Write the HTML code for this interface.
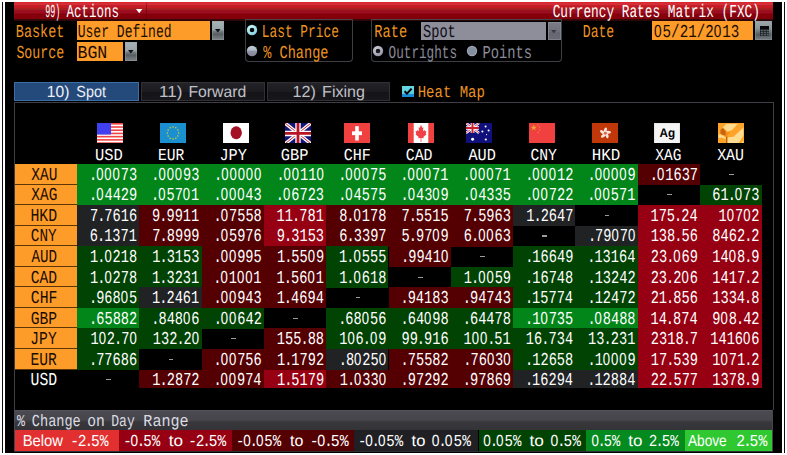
<!DOCTYPE html>
<html><head><meta charset="utf-8"><title>Currency Rates Matrix (FXC)</title>
<style>
html,body{margin:0;padding:0;background:#fff;}
body{width:787px;height:455px;position:relative;overflow:hidden;font-family:"Liberation Sans",sans-serif;text-rendering:geometricPrecision;}
#s div,#s span,#s svg{position:absolute;}
#s{position:absolute;left:0;top:0;width:787px;height:455px;}
.z{font-family:"Liberation Sans",sans-serif;}
text{white-space:pre;}
</style></head><body><div id="s">

<div style="left:2px;top:2px;width:1.1px;height:451px;background:#0c0c0c;"></div>
<div style="left:784px;top:2px;width:1px;height:451px;background:#101010;"></div>
<div style="left:4.6px;top:2px;width:777.6px;height:451px;background:#000;"></div>
<div style="left:14px;top:2px;width:759px;height:18.6px;background:linear-gradient(#de2028 0px,#da2832 1px,#d42e38 1.4px,#d42e38 3px,#c41c24 3.6px,#c41c24 5.8px,#a82020 6.3px,#a61e20 7.8px,#9c0e20 8.3px,#9a0c1e 11.2px,#86000c 11.8px,#82000a 16.6px,#3c080c 17.3px,#2c0608 18.6px);"></div>
<div style="left:145.7px;top:3px;width:1px;height:17px;background:rgba(60,0,10,.38);"></div>


<svg style="left:136px;top:8.9px" width="7" height="5" viewBox="0 0 7 5"><path d="M0 0H6.4L3.2 4.2Z" fill="#fff"/></svg>



<div style="left:76.6px;top:21px;width:133px;height:19px;background:#fe9c29;"></div>

<div style="left:76.6px;top:42px;width:46.2px;height:19px;background:#fe9c29;"></div>

<div style="left:212px;top:21.3px;width:12.2px;height:18.7px;background:linear-gradient(#a8b4b8 0,#98a4a8 45%,#727a7e 55%,#565e62 70%,#6c7478 85%,#7a8186 100%);box-shadow:inset 0 0 0 1px rgba(150,160,166,.45);"></div><svg style="left:215.3px;top:29.3px" width="5.6" height="3.6" viewBox="0 0 56 36"><path d="M0 0H56L28 34Z" fill="#0c1014"/></svg>
<div style="left:124.9px;top:42px;width:12px;height:19px;background:linear-gradient(#a8b4b8 0,#98a4a8 45%,#727a7e 55%,#565e62 70%,#6c7478 85%,#7a8186 100%);box-shadow:inset 0 0 0 1px rgba(150,160,166,.45);"></div><svg style="left:128.1px;top:50.2px" width="5.6" height="3.6" viewBox="0 0 56 36"><path d="M0 0H56L28 34Z" fill="#0c1014"/></svg>
<div style="left:245px;top:19.4px;width:106px;height:41px;background:transparent;border:1px solid #3c4044;border-top:1.2px solid #44444a;border-radius:0 0 4px 4px;"></div>
<svg style="left:246.2px;top:24.4px" width="12" height="12" viewBox="0 0 12 12"><defs><radialGradient id="rs" cx=".4" cy=".35" r=".7"><stop offset="0" stop-color="#d8f8fa"/><stop offset=".6" stop-color="#a4e4ec"/><stop offset="1" stop-color="#7cc4dc"/></radialGradient></defs><circle cx="6" cy="6" r="5.2" fill="url(#rs)"/><circle cx="6" cy="6" r="2.35" fill="#06090c"/></svg>
<svg style="left:246.2px;top:44.6px" width="12" height="12" viewBox="0 0 12 12"><defs><linearGradient id="rg" x1="0" y1="0" x2="0" y2="1"><stop offset="0" stop-color="#c0ccd2"/><stop offset=".42" stop-color="#b0bcc6"/><stop offset=".5" stop-color="#9494a8"/><stop offset="1" stop-color="#84849a"/></linearGradient></defs><circle cx="6" cy="6" r="5.2" fill="url(#rg)"/></svg>


<div style="left:370.6px;top:19.4px;width:189.2px;height:41px;background:transparent;border:1px solid #3c4044;border-top:1.2px solid #44444a;border-radius:0 0 4px 4px;"></div>

<div style="left:421px;top:21.5px;width:125px;height:18.7px;background:#8e8e9a;"></div>

<div style="left:547.6px;top:21.5px;width:13px;height:18.7px;background:linear-gradient(#7c7c88,#70707c 50%,#666672 60%,#6a6a76);box-shadow:inset 0 0 0 1px rgba(150,160,166,.45);"></div><svg style="left:551.3px;top:29.6px" width="5.6" height="3.6" viewBox="0 0 56 36"><path d="M0 0H56L28 34Z" fill="#3c3c46"/></svg>
<svg style="left:372.2px;top:44.8px" width="12" height="12" viewBox="0 0 12 12"><defs><radialGradient id="rd" cx=".4" cy=".35" r=".7"><stop offset="0" stop-color="#d4d4de"/><stop offset=".6" stop-color="#acacbc"/><stop offset="1" stop-color="#8c8ca0"/></radialGradient></defs><circle cx="6" cy="6" r="5.2" fill="url(#rd)"/><circle cx="6" cy="6" r="2.3" fill="#181818"/></svg>
<svg style="left:466.4px;top:44.8px" width="12" height="12" viewBox="0 0 12 12"><circle cx="6" cy="6" r="5.2" fill="#a2a2b6"/><circle cx="6" cy="6" r="4.1" fill="#8290a0"/></svg>



<div style="left:652.4px;top:21px;width:100.6px;height:19px;background:#fe9c29;"></div>

<div style="left:755.2px;top:20.8px;width:17.2px;height:19.6px;background:linear-gradient(#9ea8ac 0,#8a9498 40%,#70787c 55%,#525a5e 72%,#687074 88%,#747c80 100%);box-shadow:inset 0 0 0 1px rgba(150,160,166,.4);"></div>
<svg style="left:759.6px;top:25.6px" width="9.6" height="10.2" viewBox="0 0 96 102"><rect x="0" y="0" width="96" height="102" fill="#1c2024"/><rect x="0" y="0" width="96" height="30" fill="#08090a"/><g fill="#5a6266"><rect x="8" y="38" width="22" height="14"/><rect x="37" y="38" width="22" height="14"/><rect x="66" y="38" width="22" height="14"/><rect x="8" y="59" width="22" height="14"/><rect x="37" y="59" width="22" height="14"/><rect x="66" y="59" width="22" height="14"/><rect x="8" y="80" width="22" height="14"/><rect x="37" y="80" width="22" height="14"/><rect x="66" y="80" width="22" height="14"/></g></svg>
<div style="left:14.4px;top:82.2px;width:125px;height:18.6px;background:#244a7c;box-shadow:inset 0 0 0 1px #3c6ea6;"></div>


<div style="left:140.6px;top:82.2px;width:124px;height:18.4px;background:linear-gradient(#242428,#1c1c20 50%,#141418 52%,#18181c);box-shadow:inset 0 0 0 1px #303036;"></div>


<div style="left:266.6px;top:82.2px;width:123.6px;height:18.4px;background:linear-gradient(#242428,#1c1c20 50%,#141418 52%,#18181c);box-shadow:inset 0 0 0 1px #303036;"></div>


<div style="left:402px;top:86px;width:12.2px;height:11.4px;background:linear-gradient(#6ad6e2 0,#5ccfe0 68%,#1c8fdc 70%,#1888d8 100%);"></div>
<svg style="left:403px;top:87px" width="10" height="9" viewBox="0 0 10 9"><path d="M1.6 4.2L4 6.6L8.6 1.6" stroke="#000" stroke-width="2" fill="none"/></svg>

<div style="left:14px;top:101.6px;width:760px;height:1.3px;background:#3e3e44;"></div>
<div style="left:14px;top:102px;width:1.2px;height:308px;background:#3e3e44;"></div>
<div style="left:772.8px;top:102px;width:1.2px;height:308px;background:#3e3e44;"></div><svg style="left:97.2px;top:122.5px" width="26" height="20.9" viewBox="0 0 26 21" preserveAspectRatio="none"><rect width="26" height="21" fill="#fff"/><rect x="0" y="0.00" width="26" height="1.62" fill="#f04444"/><rect x="0" y="3.23" width="26" height="1.62" fill="#f04444"/><rect x="0" y="6.46" width="26" height="1.62" fill="#f04444"/><rect x="0" y="9.69" width="26" height="1.62" fill="#f04444"/><rect x="0" y="12.92" width="26" height="1.62" fill="#f04444"/><rect x="0" y="16.15" width="26" height="1.62" fill="#f04444"/><rect x="0" y="19.38" width="26" height="1.62" fill="#f04444"/><rect width="14" height="11.6" fill="#4040f0"/></svg>
<svg style="left:160px;top:122.5px" width="26" height="20.9" viewBox="0 0 26 21" preserveAspectRatio="none"><rect width="26" height="21" fill="#1a90d0"/><circle cx="13.00" cy="3.90" r="0.75" fill="#e8d020"/><circle cx="15.80" cy="4.72" r="0.75" fill="#e8d020"/><circle cx="17.85" cy="6.95" r="0.75" fill="#e8d020"/><circle cx="18.60" cy="10.00" r="0.75" fill="#e8d020"/><circle cx="17.85" cy="13.05" r="0.75" fill="#e8d020"/><circle cx="15.80" cy="15.28" r="0.75" fill="#e8d020"/><circle cx="13.00" cy="16.10" r="0.75" fill="#e8d020"/><circle cx="10.20" cy="15.28" r="0.75" fill="#e8d020"/><circle cx="8.15" cy="13.05" r="0.75" fill="#e8d020"/><circle cx="7.40" cy="10.00" r="0.75" fill="#e8d020"/><circle cx="8.15" cy="6.95" r="0.75" fill="#e8d020"/><circle cx="10.20" cy="4.72" r="0.75" fill="#e8d020"/></svg>
<svg style="left:223px;top:122.5px" width="26" height="20.9" viewBox="0 0 26 21" preserveAspectRatio="none"><rect width="26" height="21" fill="#fff"/><ellipse cx="13.2" cy="9.8" rx="5.7" ry="6.5" fill="#a41024"/></svg>
<svg style="left:285px;top:122.5px" width="26" height="20.9" viewBox="0 0 26 21" preserveAspectRatio="none"><rect width="26" height="21" fill="#141478"/><path d="M0 0L26 21M26 0L0 21" stroke="#fff" stroke-width="3.4"/><path d="M0 0L26 21M26 0L0 21" stroke="#c82030" stroke-width="1"/><path d="M13 0V21M0 10.5H26" stroke="#fff" stroke-width="5.4"/><path d="M13 0V21M0 10.5H26" stroke="#b81424" stroke-width="2.8"/></svg>
<svg style="left:344.1px;top:122.5px" width="26" height="20.9" viewBox="0 0 26 21" preserveAspectRatio="none"><rect width="26" height="21" fill="#f04040"/><rect x="11.2" y="3.2" width="3.6" height="14.4" fill="#fff"/><rect x="8" y="8.4" width="10" height="3.8" fill="#fff"/></svg>
<svg style="left:408.2px;top:122.5px" width="26" height="20.9" viewBox="0 0 26 21" preserveAspectRatio="none"><rect width="26" height="21" fill="#fff"/><rect width="5.7" height="21" fill="#f04040"/><rect x="20.3" width="5.7" height="21" fill="#f04040"/><path d="M13 2.6L14.3 5.4L15.6 4.8L15.1 8.6L16.8 7.2L17.2 8.4L19 8.2L18.2 10.6L19 11.2L15.6 13.8L16 15L13.4 14.6V18.4H12.6V14.6L10 15L10.4 13.8L7 11.2L7.8 10.6L7 8.2L8.8 8.4L9.2 7.2L10.9 8.6L10.4 4.8L11.7 5.4Z" fill="#f04048" transform="translate(13 10.5) scale(.92 1.1) translate(-13 -10.5)"/></svg>
<svg style="left:466px;top:122.5px" width="26" height="20.9" viewBox="0 0 26 21" preserveAspectRatio="none"><rect width="26" height="21" fill="#10107c"/><g><path d="M0 0L13 10M13 0L0 10" stroke="#fff" stroke-width="2.4"/><path d="M0 0L13 10M13 0L0 10" stroke="#d02030" stroke-width=".8"/><path d="M6.5 0V10M0 5H13" stroke="#fff" stroke-width="3.6"/><path d="M6.5 0V10M0 5H13" stroke="#d02030" stroke-width="2"/></g><circle cx="6.6" cy="16.4" r="1.5" fill="#fff"/><circle cx="19.6" cy="3.4" r="1.0" fill="#fff"/><circle cx="16.4" cy="8.6" r="1.0" fill="#fff"/><circle cx="22.6" cy="7.6" r="1.0" fill="#fff"/><circle cx="19.8" cy="16.6" r="1.1" fill="#fff"/><circle cx="20.6" cy="11.6" r="0.6" fill="#fff"/></svg>
<svg style="left:529.2px;top:122.5px" width="26" height="20.9" viewBox="0 0 26 21" preserveAspectRatio="none"><rect width="26" height="21" fill="#f04040"/><polygon points="4.80,1.60 5.59,3.71 7.84,3.81 6.08,5.22 6.68,7.39 4.80,6.14 2.92,7.39 3.52,5.22 1.76,3.81 4.01,3.71" fill="#f0a030"/><circle cx="9" cy="1.8" r=".65" fill="#f0a830" opacity=".75"/><circle cx="10.6" cy="4" r=".65" fill="#f0a830" opacity=".75"/><circle cx="10.6" cy="7" r=".65" fill="#f0a830" opacity=".75"/><circle cx="9" cy="9.4" r=".65" fill="#f0a830" opacity=".75"/></svg>
<svg style="left:592.1px;top:122.5px" width="26" height="20.9" viewBox="0 0 26 21" preserveAspectRatio="none"><rect width="26" height="21" fill="#c0380a"/><ellipse cx="13.3" cy="7.2" rx="1.45" ry="2.9" fill="#fae4dc" transform="rotate(0 13.3 10.2) rotate(20 13.3 7.2)"/><ellipse cx="13.3" cy="7.2" rx="1.45" ry="2.9" fill="#fae4dc" transform="rotate(72 13.3 10.2) rotate(20 13.3 7.2)"/><ellipse cx="13.3" cy="7.2" rx="1.45" ry="2.9" fill="#fae4dc" transform="rotate(144 13.3 10.2) rotate(20 13.3 7.2)"/><ellipse cx="13.3" cy="7.2" rx="1.45" ry="2.9" fill="#fae4dc" transform="rotate(216 13.3 10.2) rotate(20 13.3 7.2)"/><ellipse cx="13.3" cy="7.2" rx="1.45" ry="2.9" fill="#fae4dc" transform="rotate(288 13.3 10.2) rotate(20 13.3 7.2)"/><circle cx="13.3" cy="10.2" r="1.5" fill="#d86848"/></svg>
<svg style="left:654px;top:122.5px" width="26" height="20.9" viewBox="0 0 26 21" preserveAspectRatio="none"><rect width="26" height="21" fill="#f4f4f4"/><path d="M0 0H26V21H0Z" fill="none" stroke="#d8d8d8" stroke-width="1"/><text x="13.4" y="14.4" font-family="Liberation Sans, sans-serif" font-weight="bold" font-size="12.6" textLength="15.6" lengthAdjust="spacingAndGlyphs" text-anchor="middle" fill="#000">Ag</text></svg>
<svg style="left:718.1px;top:122.5px" width="26" height="20.9" viewBox="0 0 26 21" preserveAspectRatio="none"><rect width="26" height="21" fill="#ffa428"/><polygon points="4.9,4.5 8.1,0.9 19.7,0.9 13.8,7.4 9.6,8.6" fill="#ffdc90"/><polygon points="9.3,14.5 15.5,13.9 25.4,4.5 25.4,12.2 20.9,20 9.3,20" fill="#ffdc90"/><polygon points="23.6,20 25.4,17 25.4,20" fill="#ffdc90"/><polygon points="2.5,6.8 4.9,5 7.8,8.6 7.8,12.8 2.5,11" fill="#c8640e"/><polygon points="0.5,11.6 2.5,11.3 7.8,14.5 7.8,16.3 3.7,14.5 0.5,15.1" fill="#ffdc90"/><polygon points="7.8,9 10,9.6 13,8 9.2,13 7.8,13" fill="#f09018"/><rect x="8.1" y="13.6" width="1.2" height="7" fill="#b85808"/></svg>











<div style="left:77.0px;top:164.0px;width:560.7px;height:20.86px;background:#02861a;"></div>
<div style="left:637.7px;top:164.0px;width:62.3px;height:20.86px;background:#540003;"></div>
<div style="left:77.0px;top:184.56px;width:560.7px;height:20.86px;background:#02861a;"></div>
<div style="left:700.0px;top:184.56px;width:61.8px;height:20.86px;background:#014303;"></div>
<div style="left:77.0px;top:205.12px;width:62.3px;height:20.86px;background:#202224;"></div>
<div style="left:139.3px;top:205.12px;width:124.6px;height:20.86px;background:#540003;"></div>
<div style="left:263.9px;top:205.12px;width:62.3px;height:20.86px;background:#960012;"></div>
<div style="left:326.2px;top:205.12px;width:186.9px;height:20.86px;background:#540003;"></div>
<div style="left:513.1px;top:205.12px;width:62.3px;height:20.86px;background:#202224;"></div>
<div style="left:637.7px;top:205.12px;width:124.1px;height:20.86px;background:#960012;"></div>
<div style="left:77.0px;top:225.68px;width:62.3px;height:20.86px;background:#202224;"></div>
<div style="left:139.3px;top:225.68px;width:124.6px;height:20.86px;background:#540003;"></div>
<div style="left:263.9px;top:225.68px;width:62.3px;height:20.86px;background:#960012;"></div>
<div style="left:326.2px;top:225.68px;width:186.9px;height:20.86px;background:#540003;"></div>
<div style="left:575.4px;top:225.68px;width:62.3px;height:20.86px;background:#202224;"></div>
<div style="left:637.7px;top:225.68px;width:124.1px;height:20.86px;background:#960012;"></div>
<div style="left:77.0px;top:246.24px;width:124.6px;height:20.86px;background:#014303;"></div>
<div style="left:201.6px;top:246.24px;width:124.6px;height:20.86px;background:#540003;"></div>
<div style="left:326.2px;top:246.24px;width:62.3px;height:20.86px;background:#014303;"></div>
<div style="left:388.5px;top:246.24px;width:62.3px;height:20.86px;background:#540003;"></div>
<div style="left:513.1px;top:246.24px;width:124.6px;height:20.86px;background:#014303;"></div>
<div style="left:637.7px;top:246.24px;width:124.1px;height:20.86px;background:#960012;"></div>
<div style="left:77.0px;top:266.8px;width:124.6px;height:20.86px;background:#014303;"></div>
<div style="left:201.6px;top:266.8px;width:124.6px;height:20.86px;background:#540003;"></div>
<div style="left:326.2px;top:266.8px;width:62.3px;height:20.86px;background:#014303;"></div>
<div style="left:450.8px;top:266.8px;width:186.9px;height:20.86px;background:#014303;"></div>
<div style="left:637.7px;top:266.8px;width:124.1px;height:20.86px;background:#960012;"></div>
<div style="left:77.0px;top:287.36px;width:62.3px;height:20.86px;background:#014303;"></div>
<div style="left:139.3px;top:287.36px;width:62.3px;height:20.86px;background:#202224;"></div>
<div style="left:201.6px;top:287.36px;width:124.6px;height:20.86px;background:#540003;"></div>
<div style="left:388.5px;top:287.36px;width:124.6px;height:20.86px;background:#540003;"></div>
<div style="left:513.1px;top:287.36px;width:124.6px;height:20.86px;background:#014303;"></div>
<div style="left:637.7px;top:287.36px;width:124.1px;height:20.86px;background:#960012;"></div>
<div style="left:77.0px;top:307.92px;width:62.3px;height:20.86px;background:#02861a;"></div>
<div style="left:139.3px;top:307.92px;width:124.6px;height:20.86px;background:#014303;"></div>
<div style="left:326.2px;top:307.92px;width:186.9px;height:20.86px;background:#014303;"></div>
<div style="left:513.1px;top:307.92px;width:124.6px;height:20.86px;background:#02861a;"></div>
<div style="left:637.7px;top:307.92px;width:124.1px;height:20.86px;background:#960012;"></div>
<div style="left:77.0px;top:328.48px;width:124.6px;height:20.86px;background:#014303;"></div>
<div style="left:263.9px;top:328.48px;width:62.3px;height:20.86px;background:#540003;"></div>
<div style="left:326.2px;top:328.48px;width:311.5px;height:20.86px;background:#014303;"></div>
<div style="left:637.7px;top:328.48px;width:124.1px;height:20.86px;background:#960012;"></div>
<div style="left:77.0px;top:349.04px;width:62.3px;height:20.86px;background:#014303;"></div>
<div style="left:201.6px;top:349.04px;width:124.6px;height:20.86px;background:#540003;"></div>
<div style="left:326.2px;top:349.04px;width:62.3px;height:20.86px;background:#202224;"></div>
<div style="left:388.5px;top:349.04px;width:124.6px;height:20.86px;background:#540003;"></div>
<div style="left:513.1px;top:349.04px;width:124.6px;height:20.86px;background:#014303;"></div>
<div style="left:637.7px;top:349.04px;width:124.1px;height:20.86px;background:#960012;"></div>
<div style="left:139.3px;top:369.6px;width:124.6px;height:18.5px;background:#540003;"></div>
<div style="left:263.9px;top:369.6px;width:62.3px;height:18.5px;background:#960012;"></div>
<div style="left:326.2px;top:369.6px;width:186.9px;height:18.5px;background:#540003;"></div>
<div style="left:513.1px;top:369.6px;width:124.6px;height:18.5px;background:#202224;"></div>
<div style="left:637.7px;top:369.6px;width:124.1px;height:18.5px;background:#960012;"></div>










<div style="left:729.3px;top:173.7px;width:4.8px;height:1.2px;background:#9c9c9c;"></div>









<div style="left:667.0px;top:194.3px;width:4.8px;height:1.2px;background:#9c9c9c;"></div>









<div style="left:604.7px;top:214.8px;width:4.8px;height:1.2px;background:#9c9c9c;"></div>









<div style="left:542.4px;top:235.4px;width:4.8px;height:1.2px;background:#9c9c9c;"></div>









<div style="left:480.1px;top:255.9px;width:4.8px;height:1.2px;background:#9c9c9c;"></div>









<div style="left:417.8px;top:276.5px;width:4.8px;height:1.2px;background:#9c9c9c;"></div>









<div style="left:355.5px;top:297.1px;width:4.8px;height:1.2px;background:#9c9c9c;"></div>









<div style="left:293.2px;top:317.6px;width:4.8px;height:1.2px;background:#9c9c9c;"></div>









<div style="left:231.0px;top:338.2px;width:4.8px;height:1.2px;background:#9c9c9c;"></div>









<div style="left:168.7px;top:358.7px;width:4.8px;height:1.2px;background:#9c9c9c;"></div>









<div style="left:106.4px;top:379.3px;width:4.8px;height:1.2px;background:#9c9c9c;"></div>










<div style="left:14.8px;top:164.0px;width:62.2px;height:20.759999999999998px;background:#fe9c29;"></div>
<div style="left:14.8px;top:184px;width:62.2px;height:1px;background:#5c3608;"></div>

<div style="left:14.8px;top:184.56px;width:62.2px;height:20.759999999999998px;background:#fe9c29;"></div>
<div style="left:14.8px;top:204px;width:62.2px;height:1px;background:#5c3608;"></div>

<div style="left:14.8px;top:205.12px;width:62.2px;height:20.759999999999998px;background:#fe9c29;"></div>
<div style="left:14.8px;top:225px;width:62.2px;height:1px;background:#5c3608;"></div>

<div style="left:14.8px;top:225.68px;width:62.2px;height:20.759999999999998px;background:#fe9c29;"></div>
<div style="left:14.8px;top:245px;width:62.2px;height:1px;background:#5c3608;"></div>

<div style="left:14.8px;top:246.24px;width:62.2px;height:20.759999999999998px;background:#fe9c29;"></div>
<div style="left:14.8px;top:266px;width:62.2px;height:1px;background:#5c3608;"></div>

<div style="left:14.8px;top:266.8px;width:62.2px;height:20.759999999999998px;background:#fe9c29;"></div>
<div style="left:14.8px;top:286px;width:62.2px;height:1px;background:#5c3608;"></div>

<div style="left:14.8px;top:287.36px;width:62.2px;height:20.759999999999998px;background:#fe9c29;"></div>
<div style="left:14.8px;top:307px;width:62.2px;height:1px;background:#5c3608;"></div>

<div style="left:14.8px;top:307.92px;width:62.2px;height:20.759999999999998px;background:#fe9c29;"></div>
<div style="left:14.8px;top:327px;width:62.2px;height:1px;background:#5c3608;"></div>

<div style="left:14.8px;top:328.48px;width:62.2px;height:20.759999999999998px;background:#fe9c29;"></div>
<div style="left:14.8px;top:348px;width:62.2px;height:1px;background:#5c3608;"></div>

<div style="left:14.8px;top:349.04px;width:62.2px;height:20.759999999999998px;background:#fe9c29;"></div>
<div style="left:14.8px;top:369px;width:62.2px;height:1px;background:#5c3608;"></div>


<div style="left:14px;top:410px;width:759.4px;height:20.3px;background:linear-gradient(#58585e 0,#4a4a50 1.5px,#46464c 10px,#38383c 12px,#343438 100%);"></div>





<div style="left:15px;top:430.2px;width:104.1px;height:20.6px;background:#e23030;"></div>


<div style="left:119.1px;top:430.2px;width:113.1px;height:20.6px;background:#960012;"></div>



<div style="left:232.2px;top:430.2px;width:121.8px;height:20.6px;background:#540003;"></div>



<div style="left:354px;top:430.2px;width:124.2px;height:20.6px;background:#202024;"></div>



<div style="left:479.1px;top:430.2px;width:106.7px;height:20.6px;background:#014303;"></div>



<div style="left:585.8px;top:430.2px;width:99.2px;height:20.6px;background:#048a1e;"></div>



<div style="left:685px;top:430.2px;width:86.8px;height:20.6px;background:#30c830;"></div>


<div style="left:14px;top:410px;width:1.2px;height:41.4px;background:#46464c;"></div>
<div style="left:771.6px;top:410px;width:1.4px;height:41.4px;background:#46464c;"></div>
<div style="left:14px;top:450.8px;width:759px;height:0.8px;background:#303034;"></div>
<svg style="left:0;top:0" width="787" height="455" font-family="Liberation Mono, monospace"><g clip-path="url(#cb)"><text transform="translate(45.13,16.9) scale(0.4634,1)" font-size="18.2" fill="#fff">99)</text></g>
<g clip-path="url(#cb)"><text transform="translate(66.60,16.9) scale(0.6858,1)" font-size="18.2" fill="#fff">Actions</text></g>
<g clip-path="url(#cb)"><text transform="translate(552.70,16.9) scale(0.7032,1)" font-size="18.2" fill="#fff">Currency Rates Matrix (FXC)</text></g>
<text transform="translate(15.83,37.2) scale(0.7411,1)" font-size="18.2" fill="#ee9420">Basket</text>
<text transform="translate(16.39,58.0) scale(0.7306,1)" font-size="18.2" fill="#ee9420">Source</text>
<text transform="translate(77.70,37.2) scale(0.7168,1)" font-size="18.2" fill="#1a0c00">User Defined</text>
<text transform="translate(77.49,58.0) scale(0.9102,1)" font-size="18.2" fill="#1a0c00">BGN</text>
<text transform="translate(261.72,37.2) scale(0.7081,1)" font-size="18.2" fill="#ee9420">Last Price</text>
<text transform="translate(263.20,58.0) scale(0.7473,1)" font-size="18.2" fill="#ee9420">% Change</text>
<text transform="translate(374.32,37.2) scale(0.7526,1)" font-size="18.2" fill="#ee9420">Rate</text>
<text transform="translate(423.08,37.2) scale(0.7491,1)" font-size="18.2" fill="#0c0c14">Spot</text>
<text transform="translate(388.58,58.0) scale(0.6966,1)" font-size="18.2" fill="#8a8c9a">Outrights</text>
<text transform="translate(482.51,58.0) scale(0.7573,1)" font-size="18.2" fill="#8a8c9a">Points</text>
<text transform="translate(582.76,37.2) scale(0.7209,1)" font-size="18.2" fill="#ee9420">Date</text>
<text transform="translate(654.07,37.2) scale(0.7805,1)" font-size="18.2" fill="#1a0c00"><tspan class="z" font-size="17.47" style="letter-spacing:1.20px">0</tspan>5/21/2<tspan class="z" font-size="17.47" style="letter-spacing:1.20px">0</tspan>13</text>
<text class="z" transform="translate(46.81,97.2) scale(0.9753,1)" font-size="16.0" fill="#f0f0f4">10)</text>
<text class="z" transform="translate(76.35,97.2) scale(0.8976,1)" font-size="16.0" fill="#f0f0f4">Spot</text>
<text class="z" transform="translate(159.11,97.2) scale(1.0644,1)" font-size="16.0" fill="#c0c0c8">11)</text>
<text class="z" transform="translate(188.51,97.2) scale(0.9833,1)" font-size="16.0" fill="#c0c0c8">Forward</text>
<text class="z" transform="translate(292.58,97.2) scale(1.0040,1)" font-size="16.0" fill="#c0c0c8">12)</text>
<text class="z" transform="translate(322.09,97.2) scale(1.0015,1)" font-size="16.0" fill="#c0c0c8">Fixing</text>
<text transform="translate(417.69,97.2) scale(0.8389,1)" font-size="16.7" fill="#ee9420">Heat Map</text>
<text transform="translate(94.93,159.8) scale(0.9262,1)" font-size="16.7" fill="#fff">USD</text>
<text transform="translate(158.04,159.8) scale(0.8756,1)" font-size="16.7" fill="#fff">EUR</text>
<text transform="translate(219.40,159.8) scale(0.9139,1)" font-size="16.7" fill="#fff">JPY</text>
<text transform="translate(280.75,159.8) scale(0.9201,1)" font-size="16.7" fill="#fff">GBP</text>
<text transform="translate(343.67,159.8) scale(0.9045,1)" font-size="16.7" fill="#fff">CHF</text>
<text transform="translate(405.78,159.8) scale(0.8903,1)" font-size="16.7" fill="#fff">CAD</text>
<text transform="translate(468.40,159.8) scale(0.9102,1)" font-size="16.7" fill="#fff">AUD</text>
<text transform="translate(530.39,159.8) scale(0.8842,1)" font-size="16.7" fill="#fff">CNY</text>
<text transform="translate(591.75,159.8) scale(0.9496,1)" font-size="16.7" fill="#fff">HKD</text>
<text transform="translate(655.25,159.8) scale(0.8693,1)" font-size="16.7" fill="#fff">XAG</text>
<text transform="translate(717.15,159.8) scale(0.8949,1)" font-size="16.7" fill="#fff">XAU</text>
<text transform="translate(89.92,179.7) scale(0.7510,1)" font-size="18.2" fill="#fff"><tspan dx="-1.31" style="letter-spacing:-1.31px">.</tspan><tspan class="z" font-size="17.47" style="letter-spacing:1.20px">000</tspan>73</text>
<text transform="translate(152.22,179.7) scale(0.7510,1)" font-size="18.2" fill="#fff"><tspan dx="-1.31" style="letter-spacing:-1.31px">.</tspan><tspan class="z" font-size="17.47" style="letter-spacing:1.20px">000</tspan>93</text>
<text transform="translate(215.07,179.7) scale(0.7510,1)" font-size="18.2" fill="#fff"><tspan dx="-1.31" style="letter-spacing:-1.31px">.</tspan><tspan class="z" font-size="17.47" style="letter-spacing:1.20px">00000</tspan></text>
<text transform="translate(277.37,179.7) scale(0.7510,1)" font-size="18.2" fill="#fff"><tspan dx="-1.31" style="letter-spacing:-1.31px">.</tspan><tspan class="z" font-size="17.47" style="letter-spacing:1.20px">00</tspan>11<tspan class="z" font-size="17.47" style="letter-spacing:1.20px">0</tspan></text>
<text transform="translate(339.12,179.7) scale(0.7510,1)" font-size="18.2" fill="#fff"><tspan dx="-1.31" style="letter-spacing:-1.31px">.</tspan><tspan class="z" font-size="17.47" style="letter-spacing:1.20px">000</tspan>75</text>
<text transform="translate(401.22,179.7) scale(0.7510,1)" font-size="18.2" fill="#fff"><tspan dx="-1.31" style="letter-spacing:-1.31px">.</tspan><tspan class="z" font-size="17.47" style="letter-spacing:1.20px">000</tspan>71</text>
<text transform="translate(463.52,179.7) scale(0.7510,1)" font-size="18.2" fill="#fff"><tspan dx="-1.31" style="letter-spacing:-1.31px">.</tspan><tspan class="z" font-size="17.47" style="letter-spacing:1.20px">000</tspan>71</text>
<text transform="translate(526.12,179.7) scale(0.7510,1)" font-size="18.2" fill="#fff"><tspan dx="-1.31" style="letter-spacing:-1.31px">.</tspan><tspan class="z" font-size="17.47" style="letter-spacing:1.20px">000</tspan>12</text>
<text transform="translate(588.41,179.7) scale(0.7510,1)" font-size="18.2" fill="#fff"><tspan dx="-1.31" style="letter-spacing:-1.31px">.</tspan><tspan class="z" font-size="17.47" style="letter-spacing:1.20px">0000</tspan>9</text>
<text transform="translate(650.83,179.7) scale(0.7510,1)" font-size="18.2" fill="#fff"><tspan dx="-1.31" style="letter-spacing:-1.31px">.</tspan><tspan class="z" font-size="17.47" style="letter-spacing:1.20px">0</tspan>1637</text>
<text transform="translate(90.01,200.3) scale(0.7510,1)" font-size="18.2" fill="#fff"><tspan dx="-1.31" style="letter-spacing:-1.31px">.</tspan><tspan class="z" font-size="17.47" style="letter-spacing:1.20px">0</tspan>4429</text>
<text transform="translate(152.02,200.3) scale(0.7510,1)" font-size="18.2" fill="#fff"><tspan dx="-1.31" style="letter-spacing:-1.31px">.</tspan><tspan class="z" font-size="17.47" style="letter-spacing:1.20px">0</tspan>57<tspan class="z" font-size="17.47" style="letter-spacing:1.20px">0</tspan>1</text>
<text transform="translate(214.52,200.3) scale(0.7510,1)" font-size="18.2" fill="#fff"><tspan dx="-1.31" style="letter-spacing:-1.31px">.</tspan><tspan class="z" font-size="17.47" style="letter-spacing:1.20px">000</tspan>43</text>
<text transform="translate(276.82,200.3) scale(0.7510,1)" font-size="18.2" fill="#fff"><tspan dx="-1.31" style="letter-spacing:-1.31px">.</tspan><tspan class="z" font-size="17.47" style="letter-spacing:1.20px">0</tspan>6723</text>
<text transform="translate(339.12,200.3) scale(0.7510,1)" font-size="18.2" fill="#fff"><tspan dx="-1.31" style="letter-spacing:-1.31px">.</tspan><tspan class="z" font-size="17.47" style="letter-spacing:1.20px">0</tspan>4575</text>
<text transform="translate(401.51,200.3) scale(0.7510,1)" font-size="18.2" fill="#fff"><tspan dx="-1.31" style="letter-spacing:-1.31px">.</tspan><tspan class="z" font-size="17.47" style="letter-spacing:1.20px">0</tspan>43<tspan class="z" font-size="17.47" style="letter-spacing:1.20px">0</tspan>9</text>
<text transform="translate(463.72,200.3) scale(0.7510,1)" font-size="18.2" fill="#fff"><tspan dx="-1.31" style="letter-spacing:-1.31px">.</tspan><tspan class="z" font-size="17.47" style="letter-spacing:1.20px">0</tspan>4335</text>
<text transform="translate(526.12,200.3) scale(0.7510,1)" font-size="18.2" fill="#fff"><tspan dx="-1.31" style="letter-spacing:-1.31px">.</tspan><tspan class="z" font-size="17.47" style="letter-spacing:1.20px">00</tspan>722</text>
<text transform="translate(588.12,200.3) scale(0.7510,1)" font-size="18.2" fill="#fff"><tspan dx="-1.31" style="letter-spacing:-1.31px">.</tspan><tspan class="z" font-size="17.47" style="letter-spacing:1.20px">00</tspan>571</text>
<text transform="translate(712.22,200.3) scale(0.7510,1)" font-size="18.2" fill="#fff">61<tspan dx="-1.31" style="letter-spacing:-1.31px">.</tspan><tspan class="z" font-size="17.47" style="letter-spacing:1.20px">0</tspan>73</text>
<text transform="translate(89.94,220.8) scale(0.7510,1)" font-size="18.2" fill="#fff">7<tspan dx="-1.31" style="letter-spacing:-1.31px">.</tspan>7616</text>
<text transform="translate(152.02,220.8) scale(0.7510,1)" font-size="18.2" fill="#fff">9<tspan dx="-1.31" style="letter-spacing:-1.31px">.</tspan>9911</text>
<text transform="translate(214.55,220.8) scale(0.7510,1)" font-size="18.2" fill="#fff"><tspan dx="-1.31" style="letter-spacing:-1.31px">.</tspan><tspan class="z" font-size="17.47" style="letter-spacing:1.20px">0</tspan>7558</text>
<text transform="translate(276.62,220.8) scale(0.7510,1)" font-size="18.2" fill="#fff">11<tspan dx="-1.31" style="letter-spacing:-1.31px">.</tspan>781</text>
<text transform="translate(339.15,220.8) scale(0.7510,1)" font-size="18.2" fill="#fff">8<tspan dx="-1.31" style="letter-spacing:-1.31px">.</tspan><tspan class="z" font-size="17.47" style="letter-spacing:1.20px">0</tspan>178</text>
<text transform="translate(401.42,220.8) scale(0.7510,1)" font-size="18.2" fill="#fff">7<tspan dx="-1.31" style="letter-spacing:-1.31px">.</tspan>5515</text>
<text transform="translate(463.72,220.8) scale(0.7510,1)" font-size="18.2" fill="#fff">7<tspan dx="-1.31" style="letter-spacing:-1.31px">.</tspan>5963</text>
<text transform="translate(526.23,220.8) scale(0.7510,1)" font-size="18.2" fill="#fff">1<tspan dx="-1.31" style="letter-spacing:-1.31px">.</tspan>2647</text>
<text transform="translate(650.45,220.8) scale(0.7510,1)" font-size="18.2" fill="#fff">175<tspan dx="-1.31" style="letter-spacing:-1.31px">.</tspan>24</text>
<text transform="translate(718.55,220.8) scale(0.7510,1)" font-size="18.2" fill="#fff">1<tspan class="z" font-size="17.47" style="letter-spacing:1.20px">0</tspan>7<tspan class="z" font-size="17.47" style="letter-spacing:1.20px">0</tspan>2</text>
<text transform="translate(89.72,241.4) scale(0.7510,1)" font-size="18.2" fill="#fff">6<tspan dx="-1.31" style="letter-spacing:-1.31px">.</tspan>1371</text>
<text transform="translate(152.31,241.4) scale(0.7510,1)" font-size="18.2" fill="#fff">7<tspan dx="-1.31" style="letter-spacing:-1.31px">.</tspan>8999</text>
<text transform="translate(214.54,241.4) scale(0.7510,1)" font-size="18.2" fill="#fff"><tspan dx="-1.31" style="letter-spacing:-1.31px">.</tspan><tspan class="z" font-size="17.47" style="letter-spacing:1.20px">0</tspan>5976</text>
<text transform="translate(276.82,241.4) scale(0.7510,1)" font-size="18.2" fill="#fff">9<tspan dx="-1.31" style="letter-spacing:-1.31px">.</tspan>3153</text>
<text transform="translate(339.33,241.4) scale(0.7510,1)" font-size="18.2" fill="#fff">6<tspan dx="-1.31" style="letter-spacing:-1.31px">.</tspan>3397</text>
<text transform="translate(401.51,241.4) scale(0.7510,1)" font-size="18.2" fill="#fff">5<tspan dx="-1.31" style="letter-spacing:-1.31px">.</tspan>97<tspan class="z" font-size="17.47" style="letter-spacing:1.20px">0</tspan>9</text>
<text transform="translate(463.72,241.4) scale(0.7510,1)" font-size="18.2" fill="#fff">6<tspan dx="-1.31" style="letter-spacing:-1.31px">.</tspan><tspan class="z" font-size="17.47" style="letter-spacing:1.20px">00</tspan>63</text>
<text transform="translate(588.87,241.4) scale(0.7510,1)" font-size="18.2" fill="#fff"><tspan dx="-1.31" style="letter-spacing:-1.31px">.</tspan>79<tspan class="z" font-size="17.47" style="letter-spacing:1.20px">0</tspan>7<tspan class="z" font-size="17.47" style="letter-spacing:1.20px">0</tspan></text>
<text transform="translate(650.64,241.4) scale(0.7510,1)" font-size="18.2" fill="#fff">138<tspan dx="-1.31" style="letter-spacing:-1.31px">.</tspan>56</text>
<text transform="translate(712.32,241.4) scale(0.7510,1)" font-size="18.2" fill="#fff">8462<tspan dx="-1.31" style="letter-spacing:-1.31px">.</tspan>2</text>
<text transform="translate(89.95,261.9) scale(0.7510,1)" font-size="18.2" fill="#fff">1<tspan dx="-1.31" style="letter-spacing:-1.31px">.</tspan><tspan class="z" font-size="17.47" style="letter-spacing:1.20px">0</tspan>218</text>
<text transform="translate(152.22,261.9) scale(0.7510,1)" font-size="18.2" fill="#fff">1<tspan dx="-1.31" style="letter-spacing:-1.31px">.</tspan>3153</text>
<text transform="translate(214.52,261.9) scale(0.7510,1)" font-size="18.2" fill="#fff"><tspan dx="-1.31" style="letter-spacing:-1.31px">.</tspan><tspan class="z" font-size="17.47" style="letter-spacing:1.20px">00</tspan>995</text>
<text transform="translate(276.91,261.9) scale(0.7510,1)" font-size="18.2" fill="#fff">1<tspan dx="-1.31" style="letter-spacing:-1.31px">.</tspan>55<tspan class="z" font-size="17.47" style="letter-spacing:1.20px">0</tspan>9</text>
<text transform="translate(339.12,261.9) scale(0.7510,1)" font-size="18.2" fill="#fff">1<tspan dx="-1.31" style="letter-spacing:-1.31px">.</tspan><tspan class="z" font-size="17.47" style="letter-spacing:1.20px">0</tspan>555</text>
<text transform="translate(401.97,261.9) scale(0.7510,1)" font-size="18.2" fill="#fff"><tspan dx="-1.31" style="letter-spacing:-1.31px">.</tspan>9941<tspan class="z" font-size="17.47" style="letter-spacing:1.20px">0</tspan></text>
<text transform="translate(526.11,261.9) scale(0.7510,1)" font-size="18.2" fill="#fff"><tspan dx="-1.31" style="letter-spacing:-1.31px">.</tspan>16649</text>
<text transform="translate(588.15,261.9) scale(0.7510,1)" font-size="18.2" fill="#fff"><tspan dx="-1.31" style="letter-spacing:-1.31px">.</tspan>13164</text>
<text transform="translate(650.71,261.9) scale(0.7510,1)" font-size="18.2" fill="#fff">23<tspan dx="-1.31" style="letter-spacing:-1.31px">.</tspan><tspan class="z" font-size="17.47" style="letter-spacing:1.20px">0</tspan>69</text>
<text transform="translate(712.31,261.9) scale(0.7510,1)" font-size="18.2" fill="#fff">14<tspan class="z" font-size="17.47" style="letter-spacing:1.20px">0</tspan>8<tspan dx="-1.31" style="letter-spacing:-1.31px">.</tspan>9</text>
<text transform="translate(89.95,282.5) scale(0.7510,1)" font-size="18.2" fill="#fff">1<tspan dx="-1.31" style="letter-spacing:-1.31px">.</tspan><tspan class="z" font-size="17.47" style="letter-spacing:1.20px">0</tspan>278</text>
<text transform="translate(152.02,282.5) scale(0.7510,1)" font-size="18.2" fill="#fff">1<tspan dx="-1.31" style="letter-spacing:-1.31px">.</tspan>3231</text>
<text transform="translate(214.32,282.5) scale(0.7510,1)" font-size="18.2" fill="#fff"><tspan dx="-1.31" style="letter-spacing:-1.31px">.</tspan><tspan class="z" font-size="17.47" style="letter-spacing:1.20px">0</tspan>1<tspan class="z" font-size="17.47" style="letter-spacing:1.20px">00</tspan>1</text>
<text transform="translate(276.62,282.5) scale(0.7510,1)" font-size="18.2" fill="#fff">1<tspan dx="-1.31" style="letter-spacing:-1.31px">.</tspan>56<tspan class="z" font-size="17.47" style="letter-spacing:1.20px">0</tspan>1</text>
<text transform="translate(339.15,282.5) scale(0.7510,1)" font-size="18.2" fill="#fff">1<tspan dx="-1.31" style="letter-spacing:-1.31px">.</tspan><tspan class="z" font-size="17.47" style="letter-spacing:1.20px">0</tspan>618</text>
<text transform="translate(463.81,282.5) scale(0.7510,1)" font-size="18.2" fill="#fff">1<tspan dx="-1.31" style="letter-spacing:-1.31px">.</tspan><tspan class="z" font-size="17.47" style="letter-spacing:1.20px">00</tspan>59</text>
<text transform="translate(526.05,282.5) scale(0.7510,1)" font-size="18.2" fill="#fff"><tspan dx="-1.31" style="letter-spacing:-1.31px">.</tspan>16748</text>
<text transform="translate(588.42,282.5) scale(0.7510,1)" font-size="18.2" fill="#fff"><tspan dx="-1.31" style="letter-spacing:-1.31px">.</tspan>13242</text>
<text transform="translate(650.64,282.5) scale(0.7510,1)" font-size="18.2" fill="#fff">23<tspan dx="-1.31" style="letter-spacing:-1.31px">.</tspan>2<tspan class="z" font-size="17.47" style="letter-spacing:1.20px">0</tspan>6</text>
<text transform="translate(712.32,282.5) scale(0.7510,1)" font-size="18.2" fill="#fff">1417<tspan dx="-1.31" style="letter-spacing:-1.31px">.</tspan>2</text>
<text transform="translate(89.92,303.1) scale(0.7510,1)" font-size="18.2" fill="#fff"><tspan dx="-1.31" style="letter-spacing:-1.31px">.</tspan>968<tspan class="z" font-size="17.47" style="letter-spacing:1.20px">0</tspan>5</text>
<text transform="translate(152.02,303.1) scale(0.7510,1)" font-size="18.2" fill="#fff">1<tspan dx="-1.31" style="letter-spacing:-1.31px">.</tspan>2461</text>
<text transform="translate(214.52,303.1) scale(0.7510,1)" font-size="18.2" fill="#fff"><tspan dx="-1.31" style="letter-spacing:-1.31px">.</tspan><tspan class="z" font-size="17.47" style="letter-spacing:1.20px">00</tspan>943</text>
<text transform="translate(276.65,303.1) scale(0.7510,1)" font-size="18.2" fill="#fff">1<tspan dx="-1.31" style="letter-spacing:-1.31px">.</tspan>4694</text>
<text transform="translate(401.42,303.1) scale(0.7510,1)" font-size="18.2" fill="#fff"><tspan dx="-1.31" style="letter-spacing:-1.31px">.</tspan>94183</text>
<text transform="translate(463.72,303.1) scale(0.7510,1)" font-size="18.2" fill="#fff"><tspan dx="-1.31" style="letter-spacing:-1.31px">.</tspan>94743</text>
<text transform="translate(525.85,303.1) scale(0.7510,1)" font-size="18.2" fill="#fff"><tspan dx="-1.31" style="letter-spacing:-1.31px">.</tspan>15774</text>
<text transform="translate(588.42,303.1) scale(0.7510,1)" font-size="18.2" fill="#fff"><tspan dx="-1.31" style="letter-spacing:-1.31px">.</tspan>12472</text>
<text transform="translate(650.64,303.1) scale(0.7510,1)" font-size="18.2" fill="#fff">21<tspan dx="-1.31" style="letter-spacing:-1.31px">.</tspan>856</text>
<text transform="translate(712.25,303.1) scale(0.7510,1)" font-size="18.2" fill="#fff">1334<tspan dx="-1.31" style="letter-spacing:-1.31px">.</tspan>8</text>
<text transform="translate(90.02,323.6) scale(0.7510,1)" font-size="18.2" fill="#fff"><tspan dx="-1.31" style="letter-spacing:-1.31px">.</tspan>65882</text>
<text transform="translate(152.24,323.6) scale(0.7510,1)" font-size="18.2" fill="#fff"><tspan dx="-1.31" style="letter-spacing:-1.31px">.</tspan>848<tspan class="z" font-size="17.47" style="letter-spacing:1.20px">0</tspan>6</text>
<text transform="translate(214.62,323.6) scale(0.7510,1)" font-size="18.2" fill="#fff"><tspan dx="-1.31" style="letter-spacing:-1.31px">.</tspan><tspan class="z" font-size="17.47" style="letter-spacing:1.20px">00</tspan>642</text>
<text transform="translate(339.14,323.6) scale(0.7510,1)" font-size="18.2" fill="#fff"><tspan dx="-1.31" style="letter-spacing:-1.31px">.</tspan>68<tspan class="z" font-size="17.47" style="letter-spacing:1.20px">0</tspan>56</text>
<text transform="translate(401.45,323.6) scale(0.7510,1)" font-size="18.2" fill="#fff"><tspan dx="-1.31" style="letter-spacing:-1.31px">.</tspan>64<tspan class="z" font-size="17.47" style="letter-spacing:1.20px">0</tspan>98</text>
<text transform="translate(463.75,323.6) scale(0.7510,1)" font-size="18.2" fill="#fff"><tspan dx="-1.31" style="letter-spacing:-1.31px">.</tspan>64478</text>
<text transform="translate(526.02,323.6) scale(0.7510,1)" font-size="18.2" fill="#fff"><tspan dx="-1.31" style="letter-spacing:-1.31px">.</tspan>1<tspan class="z" font-size="17.47" style="letter-spacing:1.20px">0</tspan>735</text>
<text transform="translate(588.35,323.6) scale(0.7510,1)" font-size="18.2" fill="#fff"><tspan dx="-1.31" style="letter-spacing:-1.31px">.</tspan><tspan class="z" font-size="17.47" style="letter-spacing:1.20px">0</tspan>8488</text>
<text transform="translate(650.45,323.6) scale(0.7510,1)" font-size="18.2" fill="#fff">14<tspan dx="-1.31" style="letter-spacing:-1.31px">.</tspan>874</text>
<text transform="translate(712.32,323.6) scale(0.7510,1)" font-size="18.2" fill="#fff">9<tspan class="z" font-size="17.47" style="letter-spacing:1.20px">0</tspan>8<tspan dx="-1.31" style="letter-spacing:-1.31px">.</tspan>42</text>
<text transform="translate(90.47,344.2) scale(0.7510,1)" font-size="18.2" fill="#fff">1<tspan class="z" font-size="17.47" style="letter-spacing:1.20px">0</tspan>2<tspan dx="-1.31" style="letter-spacing:-1.31px">.</tspan>7<tspan class="z" font-size="17.47" style="letter-spacing:1.20px">0</tspan></text>
<text transform="translate(152.77,344.2) scale(0.7510,1)" font-size="18.2" fill="#fff">132<tspan dx="-1.31" style="letter-spacing:-1.31px">.</tspan>2<tspan class="z" font-size="17.47" style="letter-spacing:1.20px">0</tspan></text>
<text transform="translate(276.85,344.2) scale(0.7510,1)" font-size="18.2" fill="#fff">155<tspan dx="-1.31" style="letter-spacing:-1.31px">.</tspan>88</text>
<text transform="translate(339.21,344.2) scale(0.7510,1)" font-size="18.2" fill="#fff">1<tspan class="z" font-size="17.47" style="letter-spacing:1.20px">0</tspan>6<tspan dx="-1.31" style="letter-spacing:-1.31px">.</tspan><tspan class="z" font-size="17.47" style="letter-spacing:1.20px">0</tspan>9</text>
<text transform="translate(401.44,344.2) scale(0.7510,1)" font-size="18.2" fill="#fff">99<tspan dx="-1.31" style="letter-spacing:-1.31px">.</tspan>916</text>
<text transform="translate(463.52,344.2) scale(0.7510,1)" font-size="18.2" fill="#fff">1<tspan class="z" font-size="17.47" style="letter-spacing:1.20px">00</tspan><tspan dx="-1.31" style="letter-spacing:-1.31px">.</tspan>51</text>
<text transform="translate(525.85,344.2) scale(0.7510,1)" font-size="18.2" fill="#fff">16<tspan dx="-1.31" style="letter-spacing:-1.31px">.</tspan>734</text>
<text transform="translate(588.12,344.2) scale(0.7510,1)" font-size="18.2" fill="#fff">13<tspan dx="-1.31" style="letter-spacing:-1.31px">.</tspan>231</text>
<text transform="translate(650.83,344.2) scale(0.7510,1)" font-size="18.2" fill="#fff">2318<tspan dx="-1.31" style="letter-spacing:-1.31px">.</tspan>7</text>
<text transform="translate(710.27,344.2) scale(0.7510,1)" font-size="18.2" fill="#fff">1416<tspan class="z" font-size="17.47" style="letter-spacing:1.20px">0</tspan>6</text>
<text transform="translate(89.94,364.7) scale(0.7510,1)" font-size="18.2" fill="#fff"><tspan dx="-1.31" style="letter-spacing:-1.31px">.</tspan>77686</text>
<text transform="translate(214.54,364.7) scale(0.7510,1)" font-size="18.2" fill="#fff"><tspan dx="-1.31" style="letter-spacing:-1.31px">.</tspan><tspan class="z" font-size="17.47" style="letter-spacing:1.20px">00</tspan>756</text>
<text transform="translate(276.92,364.7) scale(0.7510,1)" font-size="18.2" fill="#fff">1<tspan dx="-1.31" style="letter-spacing:-1.31px">.</tspan>1792</text>
<text transform="translate(339.67,364.7) scale(0.7510,1)" font-size="18.2" fill="#fff"><tspan dx="-1.31" style="letter-spacing:-1.31px">.</tspan>8<tspan class="z" font-size="17.47" style="letter-spacing:1.20px">0</tspan>25<tspan class="z" font-size="17.47" style="letter-spacing:1.20px">0</tspan></text>
<text transform="translate(401.52,364.7) scale(0.7510,1)" font-size="18.2" fill="#fff"><tspan dx="-1.31" style="letter-spacing:-1.31px">.</tspan>75582</text>
<text transform="translate(464.27,364.7) scale(0.7510,1)" font-size="18.2" fill="#fff"><tspan dx="-1.31" style="letter-spacing:-1.31px">.</tspan>76<tspan class="z" font-size="17.47" style="letter-spacing:1.20px">0</tspan>3<tspan class="z" font-size="17.47" style="letter-spacing:1.20px">0</tspan></text>
<text transform="translate(526.05,364.7) scale(0.7510,1)" font-size="18.2" fill="#fff"><tspan dx="-1.31" style="letter-spacing:-1.31px">.</tspan>12658</text>
<text transform="translate(588.41,364.7) scale(0.7510,1)" font-size="18.2" fill="#fff"><tspan dx="-1.31" style="letter-spacing:-1.31px">.</tspan>1<tspan class="z" font-size="17.47" style="letter-spacing:1.20px">000</tspan>9</text>
<text transform="translate(650.71,364.7) scale(0.7510,1)" font-size="18.2" fill="#fff">17<tspan dx="-1.31" style="letter-spacing:-1.31px">.</tspan>539</text>
<text transform="translate(712.32,364.7) scale(0.7510,1)" font-size="18.2" fill="#fff">1<tspan class="z" font-size="17.47" style="letter-spacing:1.20px">0</tspan>71<tspan dx="-1.31" style="letter-spacing:-1.31px">.</tspan>2</text>
<text transform="translate(152.32,385.3) scale(0.7510,1)" font-size="18.2" fill="#fff">1<tspan dx="-1.31" style="letter-spacing:-1.31px">.</tspan>2872</text>
<text transform="translate(214.35,385.3) scale(0.7510,1)" font-size="18.2" fill="#fff"><tspan dx="-1.31" style="letter-spacing:-1.31px">.</tspan><tspan class="z" font-size="17.47" style="letter-spacing:1.20px">00</tspan>974</text>
<text transform="translate(276.91,385.3) scale(0.7510,1)" font-size="18.2" fill="#fff">1<tspan dx="-1.31" style="letter-spacing:-1.31px">.</tspan>5179</text>
<text transform="translate(339.67,385.3) scale(0.7510,1)" font-size="18.2" fill="#fff">1<tspan dx="-1.31" style="letter-spacing:-1.31px">.</tspan><tspan class="z" font-size="17.47" style="letter-spacing:1.20px">0</tspan>33<tspan class="z" font-size="17.47" style="letter-spacing:1.20px">0</tspan></text>
<text transform="translate(401.52,385.3) scale(0.7510,1)" font-size="18.2" fill="#fff"><tspan dx="-1.31" style="letter-spacing:-1.31px">.</tspan>97292</text>
<text transform="translate(463.81,385.3) scale(0.7510,1)" font-size="18.2" fill="#fff"><tspan dx="-1.31" style="letter-spacing:-1.31px">.</tspan>97869</text>
<text transform="translate(525.85,385.3) scale(0.7510,1)" font-size="18.2" fill="#fff"><tspan dx="-1.31" style="letter-spacing:-1.31px">.</tspan>16294</text>
<text transform="translate(588.15,385.3) scale(0.7510,1)" font-size="18.2" fill="#fff"><tspan dx="-1.31" style="letter-spacing:-1.31px">.</tspan>12884</text>
<text transform="translate(650.83,385.3) scale(0.7510,1)" font-size="18.2" fill="#fff">22<tspan dx="-1.31" style="letter-spacing:-1.31px">.</tspan>577</text>
<text transform="translate(712.31,385.3) scale(0.7510,1)" font-size="18.2" fill="#fff">1378<tspan dx="-1.31" style="letter-spacing:-1.31px">.</tspan>9</text>
<text transform="translate(31.35,179.7) scale(0.7955,1)" font-size="18.2" fill="#1a0c00">XAU</text>
<text transform="translate(31.36,200.3) scale(0.7913,1)" font-size="18.2" fill="#1a0c00">XAG</text>
<text transform="translate(30.43,220.8) scale(0.8155,1)" font-size="18.2" fill="#1a0c00">HKD</text>
<text transform="translate(30.81,241.4) scale(0.7890,1)" font-size="18.2" fill="#1a0c00">CNY</text>
<text transform="translate(31.60,261.9) scale(0.7786,1)" font-size="18.2" fill="#1a0c00">AUD</text>
<text transform="translate(30.80,282.5) scale(0.8039,1)" font-size="18.2" fill="#1a0c00">CAD</text>
<text transform="translate(30.79,303.1) scale(0.8135,1)" font-size="18.2" fill="#1a0c00">CHF</text>
<text transform="translate(30.79,323.6) scale(0.8053,1)" font-size="18.2" fill="#1a0c00">GBP</text>
<text transform="translate(30.36,344.2) scale(0.8030,1)" font-size="18.2" fill="#1a0c00">JPY</text>
<text transform="translate(30.44,364.7) scale(0.8034,1)" font-size="18.2" fill="#1a0c00">EUR</text>
<text transform="translate(30.58,385.3) scale(0.8106,1)" font-size="18.2" fill="#fff">USD</text>
<text transform="translate(17.00,425.8) scale(0.7971,1)" font-size="16.7" fill="#dcdce4">%</text>
<text transform="translate(31.85,425.8) scale(0.8139,1)" font-size="16.7" fill="#dcdce4">Change</text>
<text transform="translate(87.28,425.8) scale(0.8782,1)" font-size="16.7" fill="#dcdce4">on</text>
<text transform="translate(111.27,425.8) scale(0.7804,1)" font-size="16.7" fill="#dcdce4">Day</text>
<text transform="translate(143.31,425.8) scale(0.9058,1)" font-size="16.7" fill="#dcdce4">Range</text>
<text class="z" transform="translate(22.69,446.3) scale(0.9258,1)" font-size="16.0" fill="#fff">Below</text>
<text transform="translate(71.56,446.3) scale(0.8739,1)" font-size="16.7" fill="#fff"><tspan dx="-1.42" style="letter-spacing:-1.42px">-</tspan>2<tspan dx="-2.50" style="letter-spacing:-2.50px">.</tspan>5%</text>
<text transform="translate(124.40,446.3) scale(0.8471,1)" font-size="16.7" fill="#fff"><tspan dx="-1.42" style="letter-spacing:-1.42px">-</tspan><tspan class="z" font-size="16.03" style="letter-spacing:1.10px">0</tspan><tspan dx="-2.50" style="letter-spacing:-2.50px">.</tspan>5%</text>
<text class="z" transform="translate(168.74,446.3) scale(1.0687,1)" font-size="16.0" fill="#fff">to</text>
<text transform="translate(189.57,446.3) scale(0.8642,1)" font-size="16.7" fill="#fff"><tspan dx="-1.42" style="letter-spacing:-1.42px">-</tspan>2<tspan dx="-2.50" style="letter-spacing:-2.50px">.</tspan>5%</text>
<text transform="translate(237.20,446.3) scale(0.8414,1)" font-size="16.7" fill="#fff"><tspan dx="-1.42" style="letter-spacing:-1.42px">-</tspan><tspan class="z" font-size="16.03" style="letter-spacing:1.10px">0</tspan><tspan dx="-2.50" style="letter-spacing:-2.50px">.</tspan><tspan class="z" font-size="16.03" style="letter-spacing:1.10px">0</tspan>5%</text>
<text class="z" transform="translate(290.06,446.3) scale(0.9964,1)" font-size="16.0" fill="#fff">to</text>
<text transform="translate(310.94,446.3) scale(0.8910,1)" font-size="16.7" fill="#fff"><tspan dx="-1.42" style="letter-spacing:-1.42px">-</tspan><tspan class="z" font-size="16.03" style="letter-spacing:1.10px">0</tspan><tspan dx="-2.50" style="letter-spacing:-2.50px">.</tspan>5%</text>
<text transform="translate(359.20,446.3) scale(0.8414,1)" font-size="16.7" fill="#fff"><tspan dx="-1.42" style="letter-spacing:-1.42px">-</tspan><tspan class="z" font-size="16.03" style="letter-spacing:1.10px">0</tspan><tspan dx="-2.50" style="letter-spacing:-2.50px">.</tspan><tspan class="z" font-size="16.03" style="letter-spacing:1.10px">0</tspan>5%</text>
<text class="z" transform="translate(411.55,446.3) scale(1.0365,1)" font-size="16.0" fill="#fff">to</text>
<text transform="translate(431.86,446.3) scale(0.8655,1)" font-size="16.7" fill="#fff"><tspan class="z" font-size="16.03" style="letter-spacing:1.10px">0</tspan><tspan dx="-2.50" style="letter-spacing:-2.50px">.</tspan><tspan class="z" font-size="16.03" style="letter-spacing:1.10px">0</tspan>5%</text>
<text transform="translate(483.37,446.3) scale(0.8430,1)" font-size="16.7" fill="#fff"><tspan class="z" font-size="16.03" style="letter-spacing:1.10px">0</tspan><tspan dx="-2.50" style="letter-spacing:-2.50px">.</tspan><tspan class="z" font-size="16.03" style="letter-spacing:1.10px">0</tspan>5%</text>
<text class="z" transform="translate(529.44,446.3) scale(1.0767,1)" font-size="16.0" fill="#fff">to</text>
<text transform="translate(550.46,446.3) scale(0.8676,1)" font-size="16.7" fill="#fff"><tspan class="z" font-size="16.03" style="letter-spacing:1.10px">0</tspan><tspan dx="-2.50" style="letter-spacing:-2.50px">.</tspan>5%</text>
<text transform="translate(591.38,446.3) scale(0.8270,1)" font-size="16.7" fill="#fff"><tspan class="z" font-size="16.03" style="letter-spacing:1.10px">0</tspan><tspan dx="-2.50" style="letter-spacing:-2.50px">.</tspan>5%</text>
<text class="z" transform="translate(628.25,446.3) scale(1.0606,1)" font-size="16.0" fill="#fff">to</text>
<text transform="translate(648.80,446.3) scale(0.8550,1)" font-size="16.7" fill="#fff">2<tspan dx="-2.50" style="letter-spacing:-2.50px">.</tspan>5%</text>
<text class="z" transform="translate(687.97,446.3) scale(0.8537,1)" font-size="16.0" fill="#fff">Above</text>
<text transform="translate(736.37,446.3) scale(0.8815,1)" font-size="16.7" fill="#fff">2<tspan dx="-2.50" style="letter-spacing:-2.50px">.</tspan>5%</text></svg>
</div></body></html>
